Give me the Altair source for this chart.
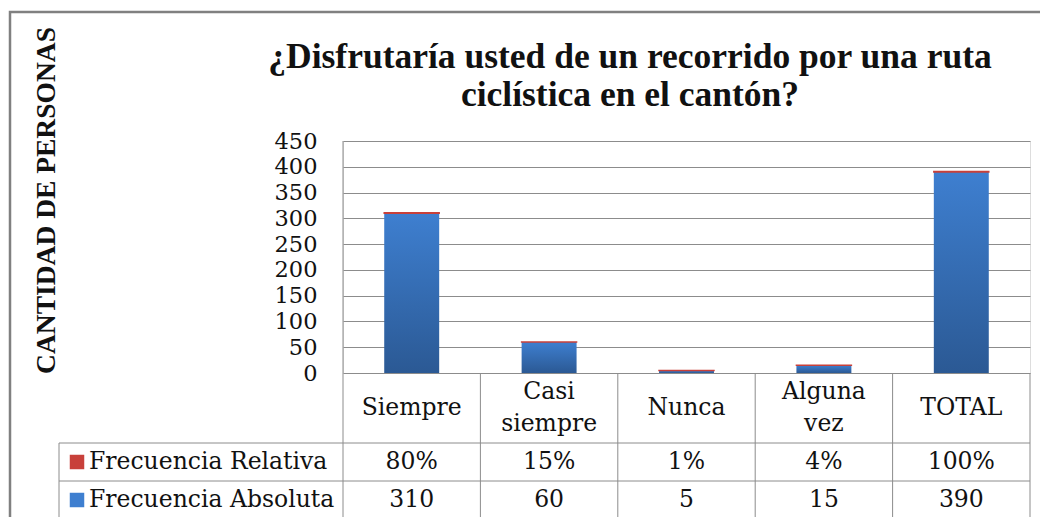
import altair as alt
import pandas as pd

CATEGORIES = ["Siempre", "Casi siempre", "Nunca", "Alguna vez", "TOTAL"]
ABSOLUTA = [310, 60, 5, 15, 390]
RELATIVA = [0.80, 0.15, 0.01, 0.04, 1.00]
SERIES = ["Frecuencia Relativa", "Frecuencia Absoluta"]
Y_TICKS = [0, 50, 100, 150, 200, 250, 300, 350, 400, 450]
TITLE_LINES = ["¿Disfrutaría usted de un recorrido por una ruta", "ciclística en el cantón?"]
Y_TITLE = "CANTIDAD DE PERSONAS"

RED = "#c8403a"
BLUE_TOP = "#3e7fd0"
BLUE_BOT = "#2b5994"
LINE = "#8c8c8c"
SERIF = "DejaVu Serif"
TITLE_FONT = "Liberation Serif"
TXT = 23.5

W, H = 687, 232

df = pd.DataFrame({"cat": CATEGORIES, "abs": ABSOLUTA, "rel": RELATIVA})
one = pd.DataFrame({"k": [0]})
title_df = pd.DataFrame({"t": ["\n".join(TITLE_LINES)]})
legend_df = pd.DataFrame({"s": SERIES})

xs = alt.Scale(domain=CATEGORIES, paddingInner=0, paddingOuter=0)
x_enc = alt.X("cat:N", sort=CATEGORIES, scale=xs, axis=None)
y_scale = alt.Scale(domain=[0, 450], nice=False, zero=True)
y_axis = alt.Axis(values=Y_TICKS, grid=True, gridColor=LINE, gridWidth=1,
                  domain=False, ticks=False, labelPadding=26, labelOverlap=False,
                  labelFont=SERIF, labelFontSize=22.5, labelColor="#111",
                  title=Y_TITLE, titleFont=TITLE_FONT, titleFontSize=27.5,
                  titleFontWeight="bold", titleColor="#111", titleAngle=270,
                  titleX=-297, titleY=59, titleAlign="center", titleBaseline="middle")

blue_grad = alt.LinearGradient(
    gradient="linear", x1=0, x2=0, y1=0, y2=1,
    stops=[alt.GradientStop(offset=0, color=BLUE_TOP), alt.GradientStop(offset=1, color=BLUE_BOT)],
)

frame = alt.Chart(one).mark_rect(fillOpacity=0, stroke="#808080", strokeWidth=2.5).encode(
    x=alt.value(-333), x2=alt.value(800), y=alt.value(-129), y2=alt.value(500)
)

bars_abs = alt.Chart(df).mark_bar(width=alt.RelativeBandSize(0.4), color=blue_grad).encode(
    x=x_enc,
    y=alt.Y("abs:Q", scale=y_scale, axis=y_axis),
)

bars_rel = alt.Chart(df).transform_calculate(top="datum.abs + datum.rel").mark_bar(
    width=alt.RelativeBandSize(0.4), color=RED, stroke=RED, strokeWidth=1.5
).encode(x=x_enc, y=alt.Y("top:Q", scale=y_scale, axis=y_axis), y2="abs:Q")

title = alt.Chart(title_df).mark_text(
    font=TITLE_FONT, fontSize=35.5, fontWeight="bold", lineBreak="\n", lineHeight=38,
    align="center", baseline="middle", color="#111"
).encode(x=alt.value(287), y=alt.value(-84), text="t:N")

# table lines
def rule(x1, x2, y1, y2):
    return alt.Chart(one).mark_rule(color=LINE, strokeWidth=1).encode(
        x=alt.value(x1), x2=alt.value(x2), y=alt.value(y1), y2=alt.value(y2))

lines = [
    rule(0, 0, 0, 377),
    rule(-284, W, 302, 302),
    rule(-284, W, 340, 340),
    rule(-284, W, 377, 377),
    rule(-284, -284, 302, 377),
]
col_lines = alt.Chart(df).mark_rule(color=LINE, strokeWidth=1).encode(
    x=alt.X("cat:N", sort=CATEGORIES, scale=xs, axis=None, bandPosition=1),
    y=alt.value(232), y2=alt.value(377))

def header_layer(multi, yv):
    cond = "indexof(datum.cat, ' ') >= 0" if multi else "indexof(datum.cat, ' ') < 0"
    return alt.Chart(df).transform_filter(cond).transform_calculate(
        lbl="replace(datum.cat, ' ', '\\n')"
    ).mark_text(
        font=SERIF, fontSize=TXT, lineBreak="\n", lineHeight=32, baseline="middle", color="#111"
    ).encode(x=x_enc, y=alt.value(yv), text="lbl:N")

header_single = header_layer(False, 267)
header_multi = header_layer(True, 251)

row_rel = alt.Chart(df).mark_text(font=SERIF, fontSize=TXT, baseline="middle", color="#111").encode(
    x=x_enc, y=alt.value(321), text=alt.Text("rel:Q", format=".0%"))
row_abs = alt.Chart(df).mark_text(font=SERIF, fontSize=TXT, baseline="middle", color="#111").encode(
    x=x_enc, y=alt.value(359), text=alt.Text("abs:Q", format="d"))

leg_rel_sq = alt.Chart(legend_df).transform_filter(alt.datum.s == SERIES[0]).mark_square(
    size=210, color=RED, opacity=1).encode(x=alt.value(-266), y=alt.value(321))
leg_abs_sq = alt.Chart(legend_df).transform_filter(alt.datum.s == SERIES[1]).mark_square(
    size=210, color=BLUE_TOP, opacity=1).encode(x=alt.value(-266), y=alt.value(359))
leg_rel_tx = alt.Chart(legend_df).transform_filter(alt.datum.s == SERIES[0]).mark_text(
    font=SERIF, fontSize=TXT, align="left", baseline="middle", color="#111").encode(
    x=alt.value(-254), y=alt.value(321), text="s:N")
leg_abs_tx = alt.Chart(legend_df).transform_filter(alt.datum.s == SERIES[1]).mark_text(
    font=SERIF, fontSize=TXT, align="left", baseline="middle", color="#111").encode(
    x=alt.value(-254), y=alt.value(359), text="s:N")

chart = alt.layer(
    frame, bars_abs, bars_rel, title, *lines, col_lines, header_single, header_multi,
    row_rel, row_abs, leg_rel_sq, leg_abs_sq, leg_rel_tx, leg_abs_tx
).properties(
    width=W, height=H,
    autosize=alt.AutoSizeParams(type="none"),
    padding={"left": 335, "top": 133, "right": 10, "bottom": 144},
).configure_view(strokeWidth=0, stroke="transparent").configure(background="white")

chart.save("out.html", embed_options={"renderer": "svg", "actions": False})
